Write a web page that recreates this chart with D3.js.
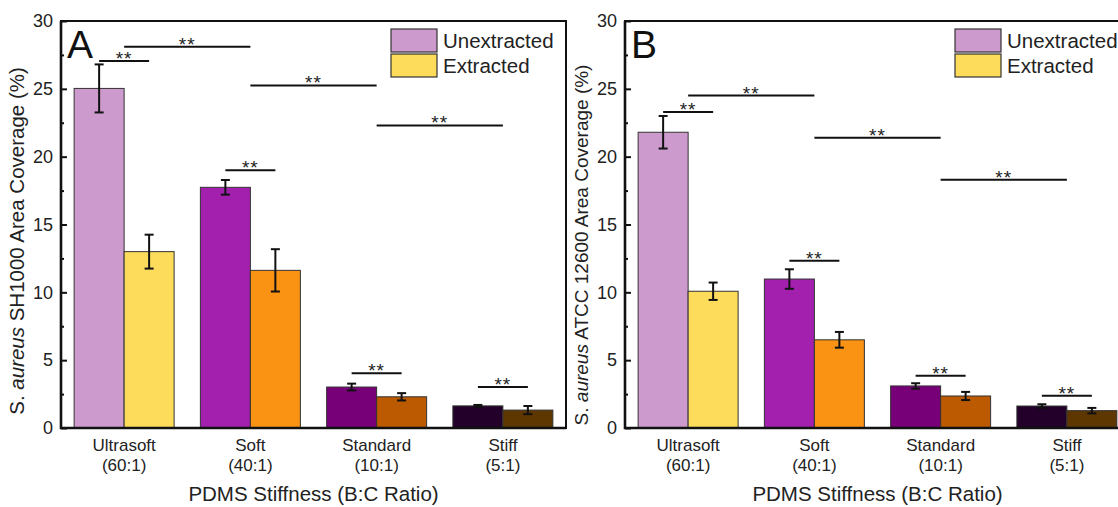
<!DOCTYPE html>
<html>
<head>
<meta charset="utf-8">
<script src="https://cdn.jsdelivr.net/npm/d3@7"></script>
<style>
    body { margin: 0; background: #fff; }
    svg { display: block; font-family: "Liberation Sans", Arial, sans-serif; }
    .axis text { fill: #222; }
</style>
</head>
<body>
<div id="chart"></div>
<script>
// stiffness groups and legend series
const categories = ["Ultrasoft", "Soft", "Standard", "Stiff"];
const ratios = ["(60:1)", "(40:1)", "(10:1)", "(5:1)"];
const seriesNames = ["Unextracted", "Extracted"];
const yTicks = [0, 5, 10, 15, 20, 25, 30];

// panel A - SH1000
const sh1000Unextracted = [25.03, 17.74, 3.02, 1.63];
const sh1000UnextractedErr = [1.77, 0.54, 0.25, 0.07];
const sh1000Extracted = [13.0, 11.62, 2.3, 1.32];
const sh1000ExtractedErr = [1.25, 1.56, 0.27, 0.3];

// panel B - ATCC 12600
const atccUnextracted = [21.8, 10.98, 3.1, 1.62];
const atccUnextractedErr = [1.2, 0.72, 0.2, 0.13];
const atccExtracted = [10.08, 6.5, 2.36, 1.28];
const atccExtractedErr = [0.64, 0.58, 0.3, 0.2];

// significance brackets: [from category, from series (null = group centre), to category, to series, height]
const sh1000Sig = [
    ["Ultrasoft", "Unextracted", "Ultrasoft", "Extracted", 27.05],
    ["Ultrasoft", null, "Soft", null, 28.1],
    ["Soft", null, "Standard", null, 25.25],
    ["Standard", null, "Stiff", null, 22.3],
    ["Soft", "Unextracted", "Soft", "Extracted", 19.0],
    ["Standard", "Unextracted", "Standard", "Extracted", 4.03],
    ["Stiff", "Unextracted", "Stiff", "Extracted", 3.02]
];
const atccSig = [
    ["Ultrasoft", "Unextracted", "Ultrasoft", "Extracted", 23.3],
    ["Ultrasoft", null, "Soft", null, 24.5],
    ["Soft", null, "Standard", null, 21.4],
    ["Standard", null, "Stiff", null, 18.3],
    ["Soft", "Unextracted", "Soft", "Extracted", 12.33],
    ["Standard", "Unextracted", "Standard", "Extracted", 3.85],
    ["Stiff", "Unextracted", "Stiff", "Extracted", 2.38]
];

// each bar has its own shade
const unextractedColors = ["#cc9acc", "#a31fae", "#770079", "#22002a"];
const extractedColors = ["#fddc5c", "#fa9214", "#bb5a00", "#5e3700"];

const svg = d3.select("#chart").append("svg")
    .attr("width", 1118)
    .attr("height", 507);

class CoveragePanel {

    constructor(_svg, _left, _letter, _strain, _unext, _unextErr, _ext, _extErr, _sig, _titleSize, _titleY) {
        this.svg = _svg;
        this.left = _left;
        this.letter = _letter;
        this.strain = _strain;
        this.unext = _unext;
        this.unextErr = _unextErr;
        this.ext = _ext;
        this.extErr = _extErr;
        this.sig = _sig;
        this.titleSize = _titleSize;
        this.titleY = _titleY;

        this.initVis();
    }

    initVis() {
        let vis = this;

        vis.margin = { top: 21, left: vis.left };
        vis.width = 505;
        vis.height = 407;

        vis.g = vis.svg.append("g")
            .attr("transform", "translate(" + vis.margin.left + "," + vis.margin.top + ")");

        vis.x = d3.scaleBand()
            .domain(categories)
            .range([0, vis.width])
            .paddingInner(0.208)
            .paddingOuter(0.104);

        vis.xSub = d3.scaleBand()
            .domain(seriesNames)
            .range([0, vis.x.bandwidth()]);

        vis.y = d3.scaleLinear()
            .domain([0, 30])
            .range([vis.height, 0]);

        vis.data = [];
        categories.forEach(function (c, i) {
            vis.data.push({ cat: c, series: "Unextracted", value: vis.unext[i], err: vis.unextErr[i], color: unextractedColors[i] });
            vis.data.push({ cat: c, series: "Extracted", value: vis.ext[i], err: vis.extErr[i], color: extractedColors[i] });
        });

        vis.updateVis();
    }

    xPos(cat, series) {
        let vis = this;
        if (series === null) return vis.x(cat) + vis.x.bandwidth() / 2;
        return vis.x(cat) + vis.xSub(series) + vis.xSub.bandwidth() / 2;
    }

    updateVis() {
        let vis = this;

        // bars
        vis.g.selectAll(".bar")
            .data(vis.data)
            .enter().append("rect")
            .attr("class", "bar")
            .attr("x", d => vis.x(d.cat) + vis.xSub(d.series))
            .attr("y", d => vis.y(d.value))
            .attr("width", vis.xSub.bandwidth())
            .attr("height", d => vis.height - vis.y(d.value))
            .attr("fill", d => d.color)
            .attr("stroke", "#333")
            .attr("stroke-width", 1);

        // error bars
        let err = vis.g.selectAll(".err")
            .data(vis.data)
            .enter().append("g")
            .attr("class", "err")
            .attr("stroke", "#111")
            .attr("stroke-width", 2);

        err.append("line")
            .attr("x1", d => vis.xPos(d.cat, d.series))
            .attr("x2", d => vis.xPos(d.cat, d.series))
            .attr("y1", d => vis.y(d.value + d.err))
            .attr("y2", d => vis.y(d.value - d.err));
        err.append("line")
            .attr("x1", d => vis.xPos(d.cat, d.series) - 4.5)
            .attr("x2", d => vis.xPos(d.cat, d.series) + 4.5)
            .attr("y1", d => vis.y(d.value + d.err))
            .attr("y2", d => vis.y(d.value + d.err));
        err.append("line")
            .attr("x1", d => vis.xPos(d.cat, d.series) - 4.5)
            .attr("x2", d => vis.xPos(d.cat, d.series) + 4.5)
            .attr("y1", d => vis.y(d.value - d.err))
            .attr("y2", d => vis.y(d.value - d.err));

        // significance lines
        let sig = vis.g.selectAll(".sig")
            .data(vis.sig)
            .enter().append("g")
            .attr("class", "sig");

        sig.append("line")
            .attr("x1", d => vis.xPos(d[0], d[1]))
            .attr("x2", d => vis.xPos(d[2], d[3]))
            .attr("y1", d => vis.y(d[4]))
            .attr("y2", d => vis.y(d[4]))
            .attr("stroke", "#111")
            .attr("stroke-width", 2);

        sig.append("text")
            .attr("x", d => (vis.xPos(d[0], d[1]) + vis.xPos(d[2], d[3])) / 2)
            .attr("y", d => vis.y(d[4]) + 4)
            .attr("text-anchor", "middle")
            .attr("font-size", 19)
            .attr("letter-spacing", 1)
            .attr("fill", "#222")
            .text("**");

        // y axis, inward ticks
        vis.yAxis = d3.axisLeft(vis.y)
            .tickValues(yTicks)
            .tickSizeInner(-6)
            .tickSizeOuter(0)
            .tickPadding(8);

        vis.g.append("g")
            .attr("class", "axis y-axis")
            .call(vis.yAxis)
            .call(g => g.select(".domain").remove())
            .call(g => g.selectAll("line").attr("stroke", "#111").attr("stroke-width", 2))
            .call(g => g.selectAll("text").attr("font-size", 18));

        vis.g.append("g")
            .attr("class", "axis y-minor")
            .call(d3.axisLeft(vis.y).tickValues([2.5, 7.5, 12.5, 17.5, 22.5, 27.5]).tickSizeInner(-3).tickSizeOuter(0).tickFormat(""))
            .call(g => g.select(".domain").remove())
            .call(g => g.selectAll("line").attr("stroke", "#111").attr("stroke-width", 2));

        // x axis with two-line labels
        vis.g.append("g")
            .attr("class", "axis x-axis")
            .attr("transform", "translate(0," + vis.height + ")")
            .call(d3.axisBottom(vis.x).tickSize(0).tickFormat(""))
            .call(g => g.select(".domain").remove())
            .call(g => g.selectAll(".tick").each(function (d, i) {
                let t = d3.select(this);
                t.append("text").attr("y", 23).attr("font-size", 17).attr("fill", "#222").text(d);
                t.append("text").attr("y", 43).attr("font-size", 17).attr("fill", "#222").text(ratios[i]);
            }));

        // frame
        vis.g.append("rect")
            .attr("width", vis.width)
            .attr("height", vis.height)
            .attr("fill", "none")
            .attr("stroke", "#111")
            .attr("stroke-width", 2);
        vis.g.append("path")
            .attr("d", "M0,0V" + vis.height + "H" + vis.width)
            .attr("fill", "none")
            .attr("stroke", "#111")
            .attr("stroke-width", 2.6);

        // legend
        let legend = vis.g.selectAll(".legend")
            .data(seriesNames)
            .enter().append("g")
            .attr("class", "legend")
            .attr("transform", (d, i) => "translate(330," + (8 + i * 25) + ")");
        legend.append("rect")
            .attr("width", 46)
            .attr("height", 23)
            .attr("fill", (d, i) => i === 0 ? unextractedColors[0] : extractedColors[0])
            .attr("stroke", "#333")
            .attr("stroke-width", 1.2);
        legend.append("text")
            .attr("x", 52)
            .attr("y", 19)
            .attr("font-size", 20.5)
            .attr("fill", "#222")
            .text(d => d);

        // panel letter
        vis.g.append("text")
            .attr("x", 6)
            .attr("y", 37)
            .attr("font-size", 39)
            .attr("fill", "#111")
            .text(vis.letter);

        // axis titles
        vis.g.append("text")
            .attr("x", vis.width / 2)
            .attr("y", 480)
            .attr("text-anchor", "middle")
            .attr("font-size", 20.5)
            .attr("fill", "#222")
            .text("PDMS Stiffness (B:C Ratio)");

        let yt = vis.g.append("text")
            .attr("transform", "translate(-37," + vis.titleY + ") rotate(-90)")
            .attr("text-anchor", "middle")
            .attr("font-size", vis.titleSize)
            .attr("fill", "#222");
        yt.append("tspan").text("S. ");
        yt.append("tspan").attr("font-style", "italic").text("aureus");
        yt.append("tspan").text(" " + vis.strain + " Area Coverage (%)");
    }
}

new CoveragePanel(svg, 61, "A", "SH1000", sh1000Unextracted, sh1000UnextractedErr,
    sh1000Extracted, sh1000ExtractedErr, sh1000Sig, 20.5, 220);
new CoveragePanel(svg, 625, "B", "ATCC 12600", atccUnextracted, atccUnextractedErr,
    atccExtracted, atccExtractedErr, atccSig, 19, 224);
</script>
</body>
</html>
